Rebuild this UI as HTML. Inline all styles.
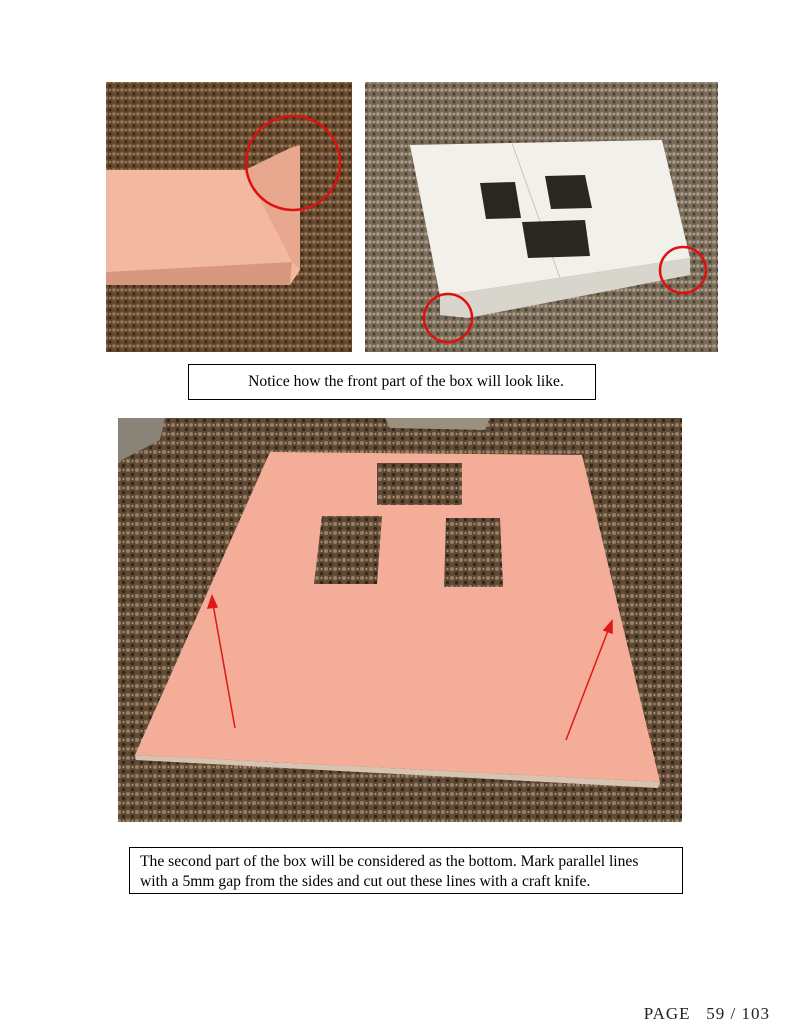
<!DOCTYPE html>
<html><head><meta charset="utf-8"><style>
html,body{margin:0;padding:0;background:#fff;width:800px;height:1035px;overflow:hidden}
svg{display:block}
text{font-family:"Liberation Serif",serif}
</style></head><body>
<svg width="800" height="1035" viewBox="0 0 800 1035">
<defs>
<pattern id="carpetBrown" width="8" height="8" patternUnits="userSpaceOnUse">
<rect width="8" height="8" fill="#65482f"/>
<circle cx="2" cy="2" r="1.8" fill="#9a7a52"/>
<circle cx="6" cy="6" r="1.6" fill="#3e2a18"/>
<circle cx="6" cy="2" r="1" fill="#b08c64"/>
</pattern>
<pattern id="carpetGray" width="8" height="8" patternUnits="userSpaceOnUse">
<rect width="8" height="8" fill="#7a6c5a"/>
<circle cx="2" cy="2" r="1.8" fill="#a89a84"/>
<circle cx="6" cy="6" r="1.6" fill="#4e4234"/>
<circle cx="6" cy="2" r="1" fill="#c0b49e"/>
</pattern>
<pattern id="carpetBrown2" width="9" height="9" patternUnits="userSpaceOnUse">
<rect width="9" height="9" fill="#5e4a36"/>
<circle cx="2" cy="2" r="2" fill="#9a8060"/>
<circle cx="6.5" cy="6.5" r="1.8" fill="#352618"/>
<circle cx="6.5" cy="2" r="1" fill="#b09a78"/>
</pattern>
</defs>

<g>
<rect x="106" y="82" width="246" height="270" fill="url(#carpetBrown)"/>
<polygon points="106,170 245,170 300,145 300,270 290,285 106,285" fill="#f2b8a0"/>
<polygon points="245,170 290,148 300,145 300,270 292,262" fill="#e8a890"/>
<polygon points="106,272 292,262 290,285 106,285" fill="#d89880"/>
<circle cx="293" cy="163" r="47" fill="none" stroke="#e01010" stroke-width="2.5"/>
</g>

<g>
<rect x="365" y="82" width="353" height="270" fill="url(#carpetGray)"/>
<polygon points="410,145 662,140 690,258 440,296" fill="#f1f0ea"/>
<polygon points="440,296 690,258 690,275 468,318 440,315" fill="#d8d6cc"/>
<line x1="512" y1="143" x2="560" y2="278" stroke="#c8c6bc" stroke-width="1"/>
<polygon points="480,183 515,182 521,218 486,219" fill="#2a2620"/>
<polygon points="545,176 585,175 592,208 551,209" fill="#2a2620"/>
<polygon points="522,222 585,220 590,256 528,258" fill="#2a2620"/>
<circle cx="448" cy="318" r="24" fill="none" stroke="#e01010" stroke-width="2.5"/>
<circle cx="683" cy="270" r="23" fill="none" stroke="#e01010" stroke-width="2.5"/>
</g>

<g>
<rect x="188.5" y="364.5" width="407" height="35" fill="#fff" stroke="#000" stroke-width="1"/>
<text x="406" y="386" font-size="15.6" text-anchor="middle" fill="#000">Notice how the front part of the box will look like.</text>
</g>

<g>
<rect x="118" y="418" width="564" height="404" fill="url(#carpetBrown2)"/>
<polygon points="118,418 165,418 160,440 118,462" fill="#8a8478"/>
<polygon points="385,418 490,418 485,430 390,428" fill="#9a9080"/>
<polygon points="270,452 582,455 660,782 135,755" fill="#f3ad98"/>
<polygon points="135,755 660,782 658,788 136,760" fill="#d6c4b0"/>
<polygon points="377,463 462,463 462,505 377,505" fill="url(#carpetBrown2)"/>
<polygon points="322,516 382,516 377,584 314,584" fill="url(#carpetBrown2)"/>
<polygon points="446,518 500,518 503,587 444,587" fill="url(#carpetBrown2)"/>
<g stroke="#e01818" stroke-width="1.5" fill="#e01818">
<line x1="235" y1="728" x2="213" y2="604"/>
<polygon points="212,596 208,608 217,607"/>
<line x1="566" y1="740" x2="609" y2="628"/>
<polygon points="612,621 604,630 612,633"/>
</g>
</g>

<g>
<rect x="129.5" y="847.5" width="553" height="46" fill="#fff" stroke="#000" stroke-width="1"/>
<text x="140" y="866" font-size="15.6" fill="#000">The second part of the box will be considered as the bottom. Mark parallel lines</text>
<text x="140" y="886" font-size="15.6" fill="#000">with a 5mm gap from the sides and cut out these lines with a craft knife.</text>
</g>

<text x="770" y="1019" font-size="17" letter-spacing="1" text-anchor="end" fill="#222" xml:space="preserve">PAGE   59 / 103</text>
</svg>
</body></html>
